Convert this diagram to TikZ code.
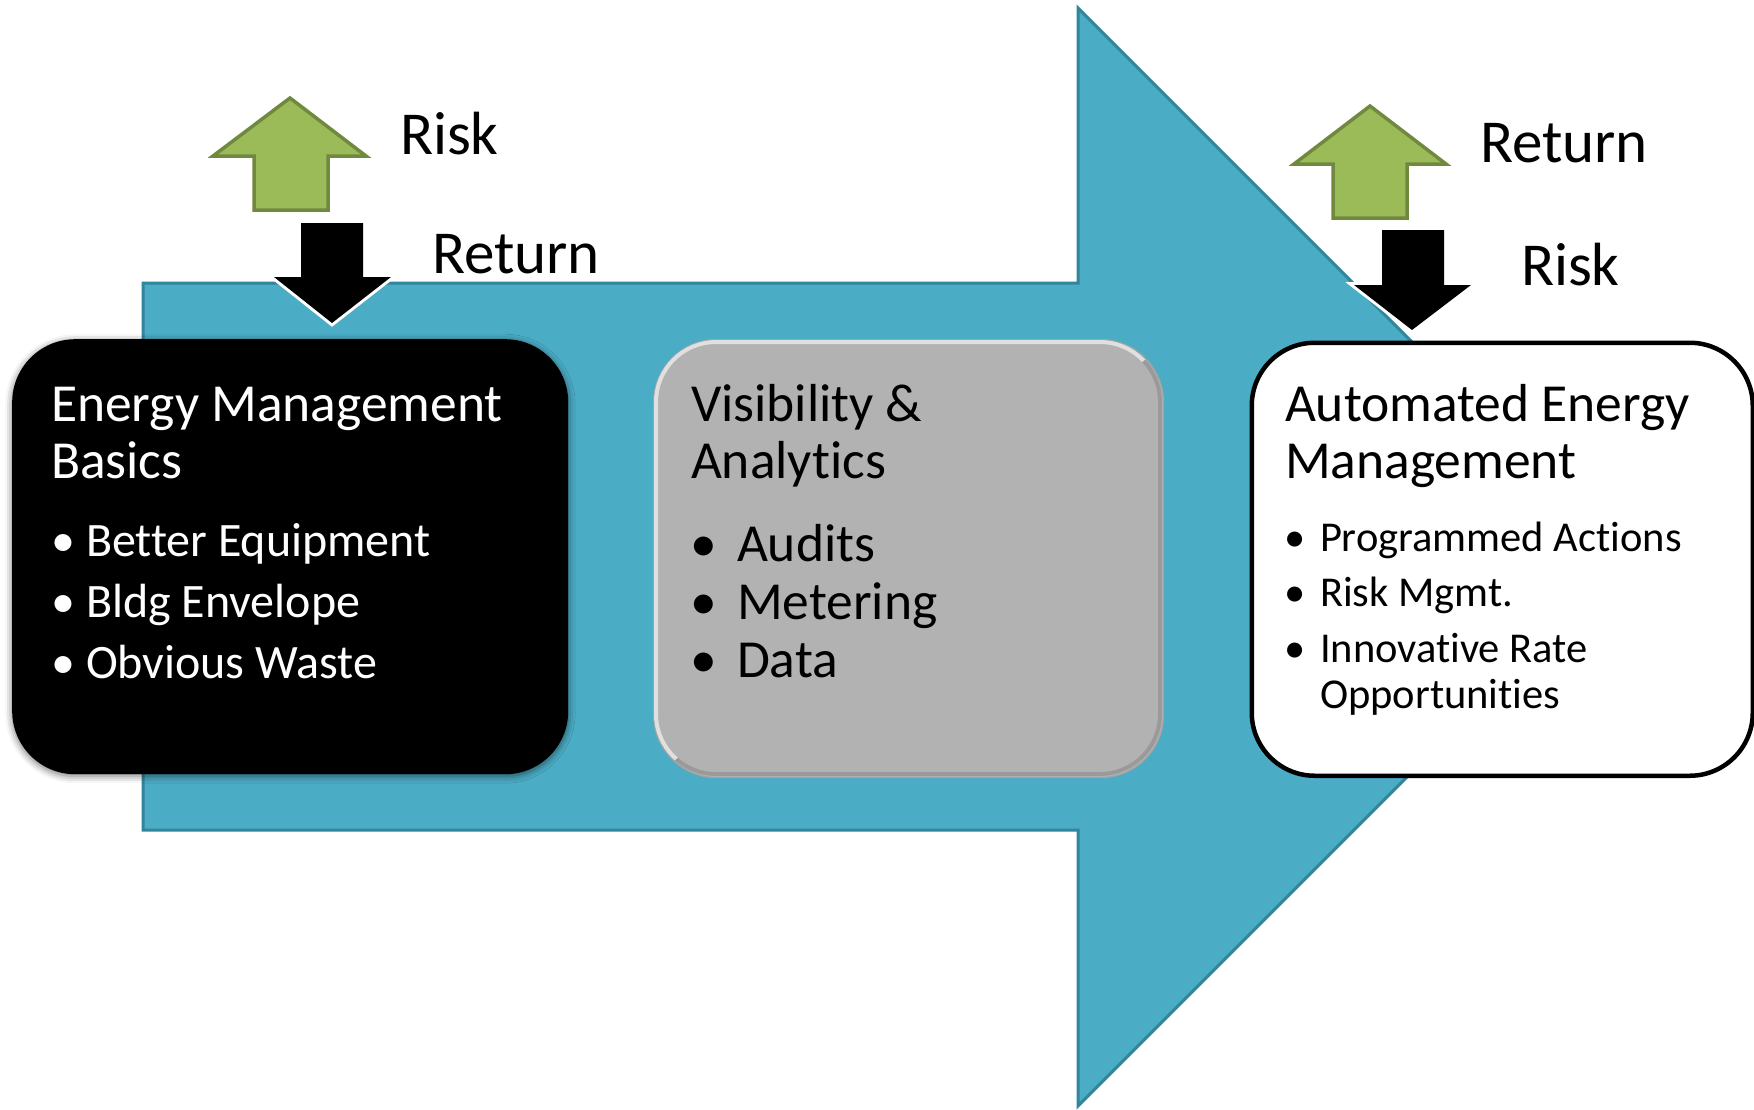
\documentclass[tikz,border=0pt]{standalone}
\usepackage{fontspec}
\setmainfont{Carlito}[RawFeature={-liga;-clig}]
\usetikzlibrary{shadows.blur}
\definecolor{arrowblue}{HTML}{4BACC6}
\definecolor{arrowedge}{HTML}{31859C}
\definecolor{upgreen}{HTML}{9BBB59}
\definecolor{upgreenedge}{HTML}{71893F}
\definecolor{boxgrey}{HTML}{B2B2B2}
\definecolor{boxgreyedge}{HTML}{A3A3A3}
\begin{document}
\begin{tikzpicture}[x=1pt,y=-1pt,
  txt/.style={inner sep=0pt, outer sep=0pt, anchor=base west},
  bul/.style={inner sep=0pt, outer sep=0pt, anchor=base},
  titlefont/.style={font=\fontsize{53.5}{60}\selectfont},
  lblfont/.style={font=\fontsize{61}{68}\selectfont},
  bulletA/.style={font=\fontsize{48}{55}\selectfont},
  bulletB/.style={font=\fontsize{53.5}{60}\selectfont},
  bulletC/.style={font=\fontsize{42.5}{48}\selectfont},
  boxbase/.style={rectangle, rounded corners=63pt, anchor=north west, inner sep=0pt},
  blackbox/.style={boxbase, fill=black, blur shadow={shadow xshift=0pt, shadow yshift=-2pt, shadow blur radius=7pt, shadow opacity=55}},
  greybox/.style={boxbase, fill=boxgrey, draw=boxgreyedge, line width=1.2pt},
  whitebox/.style={boxbase, fill=white, draw=black, line width=4.5pt},
  uparrow/.style={fill=upgreen, draw=upgreenedge, line width=3.5pt, line join=miter},
  downoutline/.style={draw=white, line width=6pt, line join=miter},
  downarrow/.style={fill=black}
]
\useasboundingbox (0,0) rectangle (1754,1109);

% big blue arrow
\draw[fill=arrowblue, draw=arrowedge, line width=3pt, line join=miter]
  (143,283) -- (1078,283) -- (1078,8) -- (1627,557) -- (1078,1106) -- (1078,830) -- (143,830) -- cycle;

% boxes
\node[blackbox, minimum width=556pt, minimum height=435pt] (b1) at (12,339) {};
\node[greybox, minimum width=510pt, minimum height=438pt] (b2) at (653,339) {};
\begin{scope}
  \clip (640,330) -- (1180,330) -- (640,790) -- cycle;
  \draw[white, opacity=.6, line width=4pt, rounded corners=60pt] (656,342) rectangle (1160,774);
\end{scope}
\begin{scope}
  \clip (1180,330) -- (1180,790) -- (640,790) -- cycle;
  \draw[black, opacity=.13, line width=4pt, rounded corners=60pt] (656,342) rectangle (1160,774);
\end{scope}
\node[whitebox, minimum width=501pt, minimum height=433pt] (b3) at (1249.5,340.5) {};

% box 1 text
\node[txt, titlefont, white] (t1a) at (51,421) {Energy Management};
\node[txt, titlefont, white] (t1b) at (51,478) {Basics};
\node[bul, bulletA, white] (d1a) at (63,556) {•};
\node[txt, bulletA, white] (e1a) at (86,556) {Better Equipment};
\node[bul, bulletA, white] (d1b) at (63,617) {•};
\node[txt, bulletA, white] (e1b) at (86,617) {Bldg Envelope};
\node[bul, bulletA, white] (d1c) at (63,678) {•};
\node[txt, bulletA, white] (e1c) at (86,678) {Obvious Waste};

% box 2 text
\node[txt, titlefont] (t2a) at (691,421) {Visibility \&};
\node[txt, titlefont] (t2b) at (691,478) {Analytics};
\node[bul, bulletB] (d2a) at (704,561) {•};
\node[txt, bulletB] (e2a) at (737,561) {Audits};
\node[bul, bulletB] (d2b) at (704,619) {•};
\node[txt, bulletB] (e2b) at (737,619) {Metering};
\node[bul, bulletB] (d2c) at (704,677) {•};
\node[txt, bulletB] (e2c) at (737,677) {Data};

% box 3 text
\node[txt, titlefont] (t3a) at (1285,421) {Automated Energy};
\node[txt, titlefont] (t3b) at (1285,478) {Management};
\node[bul, bulletC] (d3a) at (1295,551) {•};
\node[txt, bulletC] (e3a) at (1320,551) {Programmed Actions};
\node[bul, bulletC] (d3b) at (1295,606) {•};
\node[txt, bulletC] (e3b) at (1320,606) {Risk Mgmt.};
\node[bul, bulletC] (d3c) at (1295,662) {•};
\node[txt, bulletC] (e3c) at (1320,662) {Innovative Rate};
\node[txt, bulletC] (e3d) at (1320,708) {Opportunities};

% left risk/return arrows
\draw[uparrow] (290,98) -- (366,156) -- (328,156) -- (328,210) -- (254,210) -- (254,156) -- (213,156) -- cycle;
\draw[downoutline] (301,223) -- (363,223) -- (363,277) -- (391,277) -- (332,323) -- (274,277) -- (301,277) -- cycle;
\fill[downarrow] (301,223) -- (363,223) -- (363,277) -- (391,277) -- (332,323) -- (274,277) -- (301,277) -- cycle;
\node[txt, lblfont] (l1) at (400,154) {Risk};
\node[txt, lblfont] (l2) at (432,273) {Return};

% right risk/return arrows
\draw[uparrow] (1370,106) -- (1446,164) -- (1407,164) -- (1407,218) -- (1333,218) -- (1333,164) -- (1294,164) -- cycle;
\draw[downoutline] (1382,230) -- (1444,230) -- (1444,285) -- (1471,285) -- (1412,330) -- (1354,285) -- (1382,285) -- cycle;
\fill[downarrow] (1382,230) -- (1444,230) -- (1444,285) -- (1471,285) -- (1412,330) -- (1354,285) -- (1382,285) -- cycle;
\node[txt, lblfont] (r1) at (1480,162) {Return};
\node[txt, lblfont] (r2) at (1521,285) {Risk};
\end{tikzpicture}
\end{document}
